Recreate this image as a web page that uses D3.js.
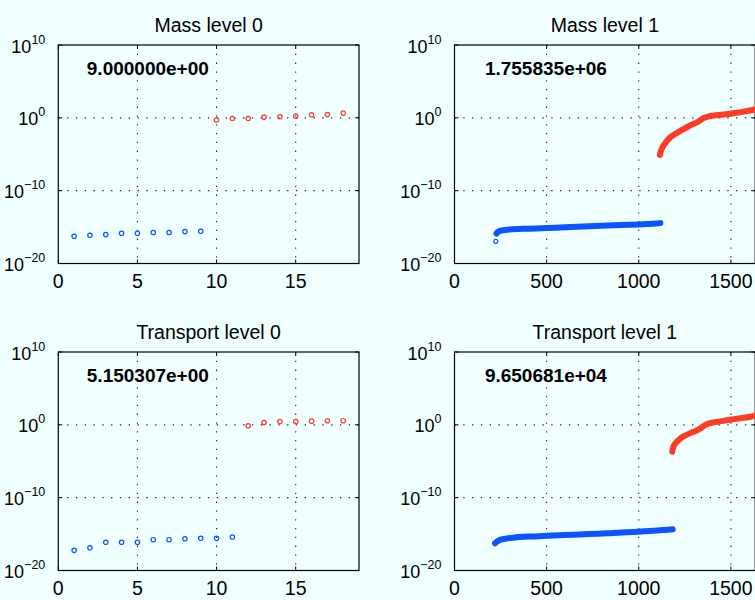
<!DOCTYPE html>
<html>
<head>
<meta charset="utf-8">
<script src="https://cdn.jsdelivr.net/npm/d3@7"></script>
<style>
    body { margin: 0; background: #f0ffff; }
    svg { display: block; font-family: "Liberation Sans", Arial, Helvetica, sans-serif; }
</style>
</head>
<body>
<svg id="chart" width="755" height="600"></svg>
<script>
// panel titles and annotations (ratio max/min of the red set)
const panelTitles = ["Mass level 0", "Mass level 1", "Transport level 0", "Transport level 1"];
const panelNotes = ["9.000000e+00", "1.755835e+06", "5.150307e+00", "9.650681e+04"];

const yTickExponents = [-20, -10, 0, 10];
const xTicksLevel0 = [0, 5, 10, 15];
const xTicksLevel1 = [0, 500, 1000, 1500];

// Mass level 0
const mass0BlueX = [1, 2, 3, 4, 5, 6, 7, 8, 9];
const mass0BlueY = [5.5e-17, 7.6e-17, 9.3e-17, 1.4e-16, 1.4e-16, 1.8e-16, 1.8e-16, 2.4e-16, 2.6e-16];
const mass0RedX = [10, 11, 12, 13, 14, 15, 16, 17, 18];
const mass0RedY = [0.5, 0.8, 0.8, 1.25, 1.4, 1.7, 2.6, 2.8, 4.5];

// Transport level 0
const transport0BlueX = [1, 2, 3, 4, 5, 6, 7, 8, 9, 10, 11];
const transport0BlueY = [5.8e-18, 1.3e-17, 7.4e-17, 7.4e-17, 7.4e-17, 1.7e-16, 1.7e-16, 2.3e-16, 2.6e-16, 2.6e-16, 3.9e-16];
const transport0RedX = [12, 13, 14, 15, 16, 17, 18];
const transport0RedY = [0.72, 2.1, 2.8, 2.8, 3.2, 3.7, 3.7];

// Mass level 1 (sampled along the dense marker runs)
const mass1BlueX = [224, 228, 240, 260, 300, 400, 500, 600, 700, 800, 900, 1000, 1050, 1117];
const mass1BlueY = [1.1e-17, 1.3e-16, 2.5e-16, 3.5e-16, 4.7e-16, 6.0e-16, 7.2e-16, 9.3e-16, 1.2e-15, 1.5e-15, 1.9e-15, 2.2e-15, 2.6e-15, 3.5e-15];
const mass1RedX = [1115, 1122, 1133, 1150, 1169, 1195, 1224, 1250, 1278, 1300, 1318, 1335, 1350, 1375, 1410, 1459, 1510, 1570, 1632];
const mass1RedY = [7.9e-6, 4.0e-5, 1.35e-4, 5.6e-4, 1.9e-3, 5.6e-3, 0.0148, 0.035, 0.089, 0.15, 0.25, 0.48, 0.9, 1.5, 2.1, 2.8, 4.2, 7.1, 14];

// Transport level 1
const transport1BlueX = [220, 235, 250, 280, 320, 400, 500, 600, 680, 780, 860, 1000, 1100, 1184];
const transport1BlueY = [5.4e-17, 1.1e-16, 1.7e-16, 2.4e-16, 3.2e-16, 4.5e-16, 5.9e-16, 7.4e-16, 9.1e-16, 1.1e-15, 1.4e-15, 2.1e-15, 3.0e-15, 4.5e-15];
const transport1RedX = [1182, 1188, 1200, 1215, 1235, 1260, 1290, 1315, 1340, 1365, 1400, 1459, 1495, 1550, 1600, 1632];
const transport1RedY = [2.0e-4, 1.0e-3, 3.0e-3, 7.5e-3, 0.02, 0.042, 0.095, 0.17, 0.4, 1.1, 2.0, 3.5, 4.9, 7.9, 12, 19];

const blue = "#0a55ff";
const red = "#ff3b26";

const zip = (xs, ys) => xs.map((x, i) => ({x: x, y: ys[i]}));

const panels = [
    {title: panelTitles[0], note: panelNotes[0], left: 58.3, top: 45, xMax: 19, xTicks: xTicksLevel0, noteX: 1.8,
        blue: zip(mass0BlueX, mass0BlueY), red: zip(mass0RedX, mass0RedY), dense: false},
    {title: panelTitles[1], note: panelNotes[1], left: 454.5, top: 45, xMax: 1632, xTicks: xTicksLevel1, noteX: 165,
        blue: zip(mass1BlueX, mass1BlueY), red: zip(mass1RedX, mass1RedY), dense: true, loneFirst: true},
    {title: panelTitles[2], note: panelNotes[2], left: 58.3, top: 352, xMax: 19, xTicks: xTicksLevel0, noteX: 1.8,
        blue: zip(transport0BlueX, transport0BlueY), red: zip(transport0RedX, transport0RedY), dense: false},
    {title: panelTitles[3], note: panelNotes[3], left: 454.5, top: 352, xMax: 1632, xTicks: xTicksLevel1, noteX: 165,
        blue: zip(transport1BlueX, transport1BlueY), red: zip(transport1RedX, transport1RedY), dense: true, loneFirst: false}
];

const plotWidth = 300.7;
const plotHeight = 218.5;
const svg = d3.select("#chart");

svg.append("rect").attr("width", 755).attr("height", 600).attr("fill", "#f0ffff");

panels.forEach(p => {
    const x = d3.scaleLinear().domain([0, p.xMax]).range([p.left, p.left + plotWidth]);
    const y = d3.scaleLog().domain([1e-20, 1e10]).range([p.top + plotHeight, p.top]);
    const g = svg.append("g");

    // dotted grid at inner ticks
    g.selectAll(".vgrid").data(p.xTicks.slice(1)).enter().append("line")
        .attr("x1", d => x(d)).attr("x2", d => x(d))
        .attr("y1", p.top).attr("y2", p.top + plotHeight)
        .attr("stroke", "#222").attr("stroke-width", 1.1).attr("stroke-dasharray", "1.3,7.5");
    g.selectAll(".hgrid").data(yTickExponents.slice(1, -1)).enter().append("line")
        .attr("x1", p.left).attr("x2", p.left + plotWidth)
        .attr("y1", d => y(Math.pow(10, d))).attr("y2", d => y(Math.pow(10, d)))
        .attr("stroke", "#222").attr("stroke-width", 1.1).attr("stroke-dasharray", "1.3,7.5");

    // tick marks inside the box, on all sides
    p.xTicks.forEach(t => {
        g.append("line").attr("x1", x(t)).attr("x2", x(t)).attr("y1", p.top + plotHeight).attr("y2", p.top + plotHeight - 4).attr("stroke", "#000");
        g.append("line").attr("x1", x(t)).attr("x2", x(t)).attr("y1", p.top).attr("y2", p.top + 4).attr("stroke", "#000");
    });
    yTickExponents.forEach(e => {
        const yy = y(Math.pow(10, e));
        g.append("line").attr("x1", p.left).attr("x2", p.left + 4).attr("y1", yy).attr("y2", yy).attr("stroke", "#000");
        g.append("line").attr("x1", p.left + plotWidth).attr("x2", p.left + plotWidth - 4).attr("y1", yy).attr("y2", yy).attr("stroke", "#000");
    });

    g.append("rect")
        .attr("x", p.left).attr("y", p.top)
        .attr("width", plotWidth).attr("height", plotHeight)
        .attr("fill", "none").attr("stroke", "#000").attr("stroke-width", 1.2);

    // tick labels
    g.selectAll(".xlab").data(p.xTicks).enter().append("text")
        .attr("x", d => x(d)).attr("y", p.top + plotHeight + 24.5)
        .attr("text-anchor", "middle").attr("font-size", 19.5).attr("fill", "#000")
        .text(d => d);

    const ylab = g.selectAll(".ylab").data(yTickExponents).enter().append("text")
        .attr("x", p.left - 13).attr("y", d => y(Math.pow(10, d)) + 7.5)
        .attr("text-anchor", "end").attr("font-size", 18).attr("fill", "#000");
    ylab.append("tspan").text("10");
    ylab.append("tspan").attr("dy", -9).attr("font-size", 12.5)
        .text(d => String(d).replace("-", "\u2212"));

    g.append("text")
        .attr("x", p.left + plotWidth / 2).attr("y", p.top - 12.7)
        .attr("text-anchor", "middle").attr("font-size", 19.5).attr("fill", "#000")
        .text(p.title);

    g.append("text")
        .attr("x", x(p.noteX)).attr("y", p.top + 30)
        .attr("font-size", 19).attr("font-weight", "bold").attr("fill", "#000")
        .text(p.note);

    // markers
    if (p.dense) {
        const line = d3.line().x(d => x(d.x)).y(d => y(d.y)).curve(d3.curveCatmullRom.alpha(0.5));
        const blueRun = p.loneFirst ? p.blue.slice(1) : p.blue;
        g.append("path").attr("d", line(blueRun))
            .attr("fill", "none").attr("stroke", blue).attr("stroke-width", 6)
            .attr("stroke-linecap", "round").attr("stroke-linejoin", "round");
        g.append("path").attr("d", line(p.red))
            .attr("fill", "none").attr("stroke", red).attr("stroke-width", 6)
            .attr("stroke-linecap", "round").attr("stroke-linejoin", "round");
        if (p.loneFirst) {
            g.append("circle").attr("cx", x(p.blue[0].x)).attr("cy", y(p.blue[0].y)).attr("r", 2)
                .attr("fill", "none").attr("stroke", blue).attr("stroke-width", 1.2);
        }
    } else {
        g.selectAll(".bpt").data(p.blue).enter().append("circle")
            .attr("cx", d => x(d.x)).attr("cy", d => y(d.y)).attr("r", 2.2)
            .attr("fill", "none").attr("stroke", blue).attr("stroke-width", 1.2);
        g.selectAll(".rpt").data(p.red).enter().append("circle")
            .attr("cx", d => x(d.x)).attr("cy", d => y(d.y)).attr("r", 2.2)
            .attr("fill", "none").attr("stroke", red).attr("stroke-width", 1.2);
    }
});
</script>
</body>
</html>
